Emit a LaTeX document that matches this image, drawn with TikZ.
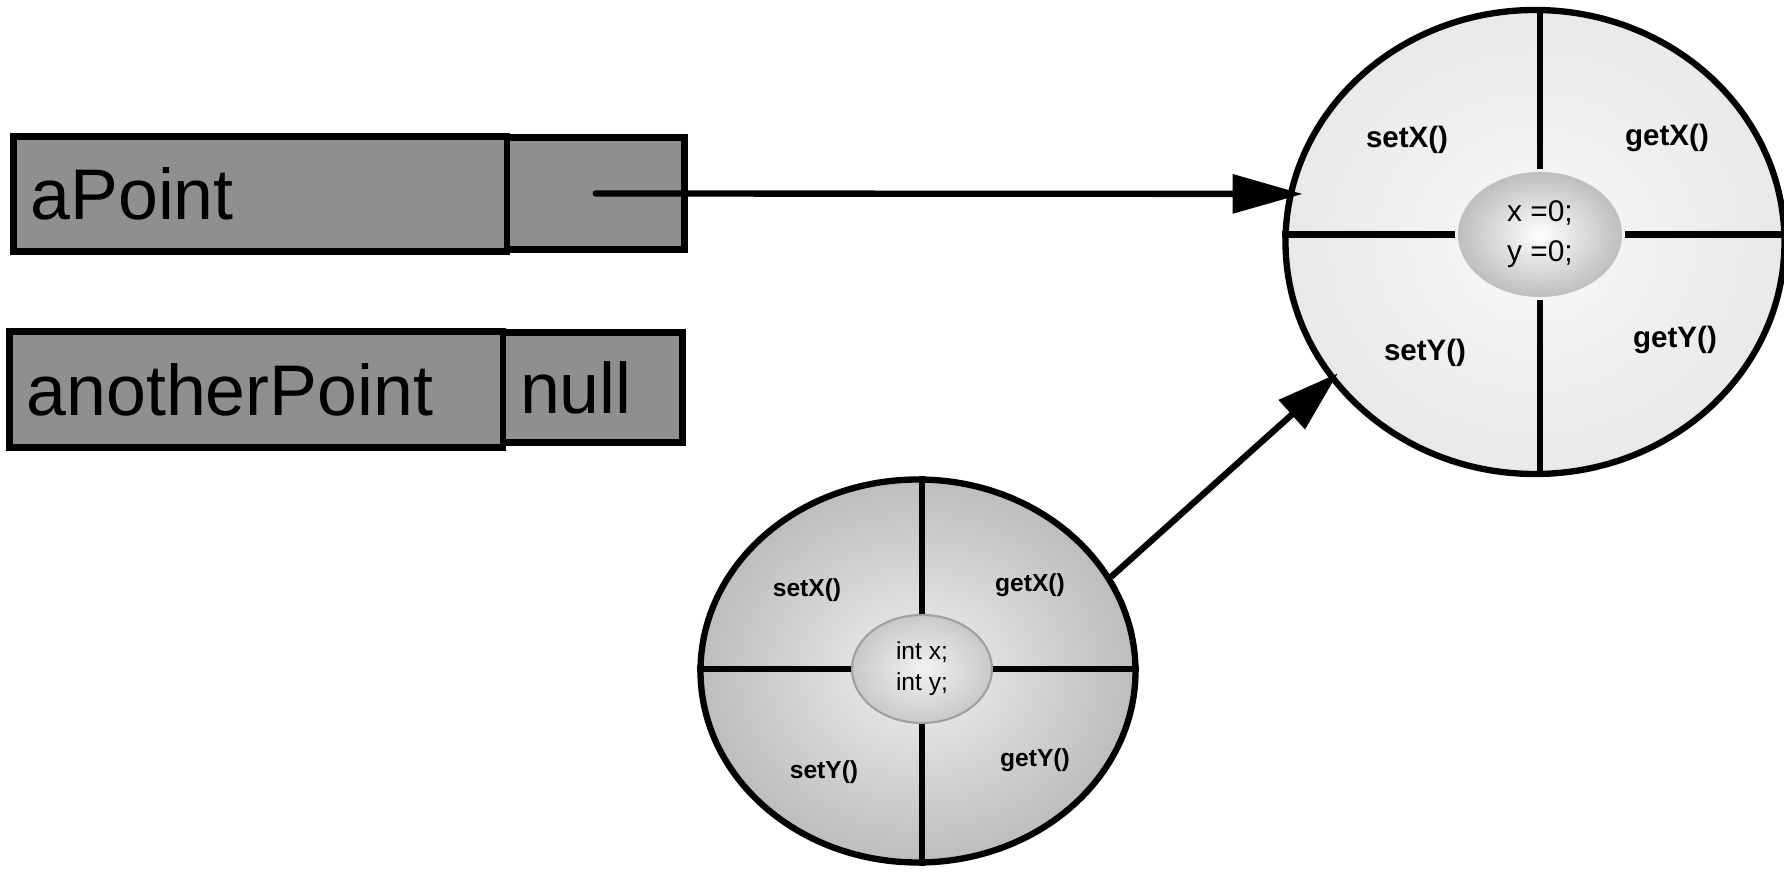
\documentclass[tikz,border=0pt]{standalone}
\usepackage{fontspec}
\setmainfont{Liberation Sans}
\usetikzlibrary{shapes.geometric,arrows.meta}

\definecolor{boxgray}{RGB}{143,143,143}
\definecolor{objin}{RGB}{248,248,248}
\definecolor{objout}{RGB}{218,218,218}
\definecolor{clsin}{RGB}{240,240,240}
\definecolor{clsout}{RGB}{138,138,138}
\definecolor{corein}{RGB}{255,255,255}
\definecolor{coreout}{RGB}{125,125,125}
\definecolor{fieldin}{RGB}{242,242,242}
\definecolor{fieldout}{RGB}{160,160,160}

\pgfdeclareradialshading{objshade}{\pgfpoint{0bp}{0bp}}{color(0bp)=(objin); color(50bp)=(objout)}
\pgfdeclareradialshading{clsshade}{\pgfpoint{0bp}{0bp}}{color(0bp)=(clsin); color(50bp)=(clsout)}
\pgfdeclareradialshading{coreshade}{\pgfpoint{0bp}{0bp}}{color(0bp)=(corein); color(50bp)=(coreout)}
\pgfdeclareradialshading{fieldshade}{\pgfpoint{0bp}{0bp}}{color(0bp)=(fieldin); color(50bp)=(fieldout)}

\begin{document}
\begin{tikzpicture}[line width=1.8pt,
  var/.style={draw,rectangle,fill=boxgray,inner xsep=0.17cm,inner ysep=0pt,align=left,
    font=\fontsize{20.4}{24}\selectfont},
  blob/.style={draw,ellipse,inner sep=0pt},
  meth/.style={font=\bfseries\fontsize{8.4}{10}\selectfont},
  smallmeth/.style={font=\bfseries\fontsize{7}{8.5}\selectfont},
  ref/.style={-{Triangle[length=0.7cm,width=0.38cm]},line cap=round}]
\useasboundingbox (0,0) rectangle (17.84,8.72);

% the two reference variables
\node[var,text width=4.595cm,minimum height=1.15cm] (apoint) at (2.6025,6.78) {aPoint};
\node[var,text width=1.435cm,minimum height=1.12cm] (apointref) at (5.9575,6.785) {};
\node[var,text width=4.595cm,minimum height=1.16cm] (another) at (2.5625,4.825) {anotherPoint};
\node[var,text width=1.455cm,minimum height=1.10cm] (anotherref) at (5.9275,4.845) {null};

% the object
\node[blob,shading=objshade,minimum width=4.99cm,minimum height=4.64cm] (obj) at (15.35,6.30) {};
\node[ellipse,inner sep=0pt,shading=coreshade,minimum width=1.64cm,minimum height=1.25cm,
  align=center,font=\fontsize{8.5}{11.4}\selectfont] (objcore) at (15.40,6.375) {x =0;\\y =0;};
\draw (objcore.north) -- (objcore.north |- obj.north);
\draw (objcore.south) -- (objcore.south |- obj.south);
\draw (objcore.west) -- (objcore.west -| obj.west);
\draw (objcore.east) -- (objcore.east -| obj.east);
\node[meth] (osetx) at (14.07,7.32) {setX()};
\node[meth] (ogetx) at (16.67,7.34) {getX()};
\node[meth] (osety) at (14.25,5.19) {setY()};
\node[meth] (ogety) at (16.75,5.32) {getY()};

% the class
\node[blob,shading=clsshade,minimum width=4.35cm,minimum height=3.83cm] (cls) at (9.18,2.01) {};
\node[ellipse,inner sep=0pt,draw=fieldout,line width=0.6pt,shading=fieldshade,minimum width=1.40cm,
  minimum height=1.08cm,align=center,font=\fontsize{7}{8.8}\selectfont] (clscore) at (9.22,2.03) {int x;\\int y;};
\draw (clscore.north) -- (clscore.north |- cls.north);
\draw (clscore.south) -- (clscore.south |- cls.south);
\draw (clscore.west) -- (clscore.west -| cls.west);
\draw (clscore.east) -- (clscore.east -| cls.east);
\node[smallmeth] (csetx) at (8.07,2.82) {setX()};
\node[smallmeth] (cgetx) at (10.30,2.87) {getX()};
\node[smallmeth] (csety) at (8.24,1.00) {setY()};
\node[smallmeth] (cgety) at (10.35,1.12) {getY()};

\draw[ref,shorten >=-0.15cm] (apointref.center) -- (obj.169);
\draw[-{Triangle[length=0.62cm,width=0.38cm]},shorten >=-0.1cm] (cls.26) -- (obj.214);

\end{tikzpicture}
\end{document}
